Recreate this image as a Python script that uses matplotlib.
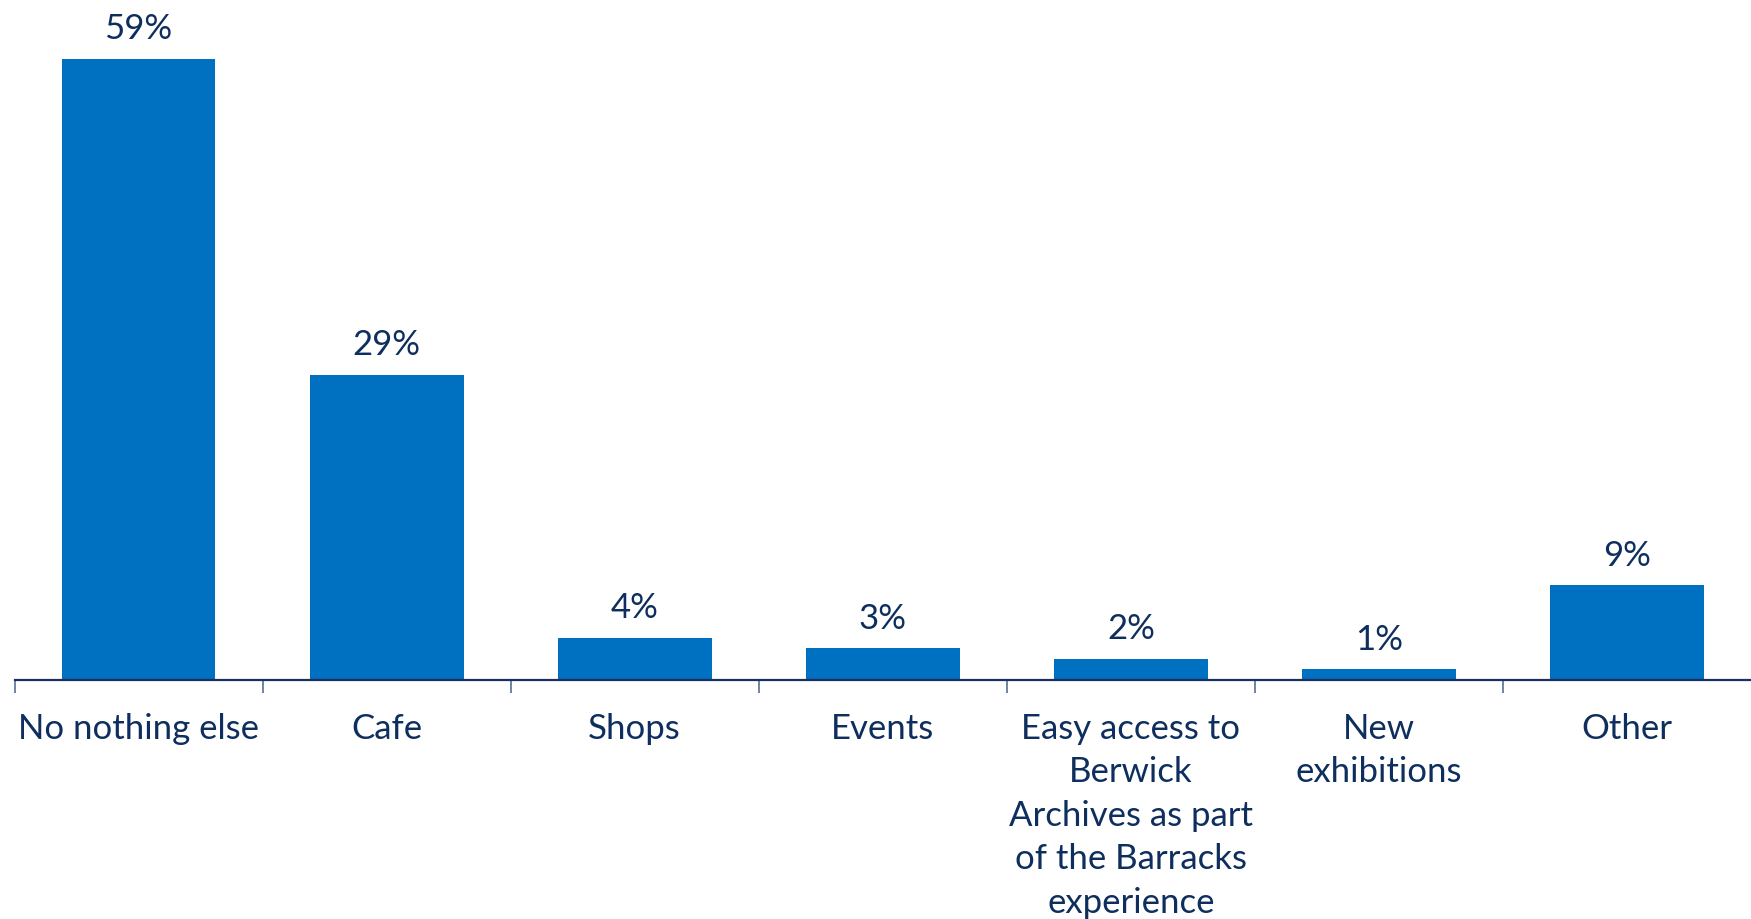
import matplotlib
matplotlib.use("Agg")
import matplotlib.pyplot as plt
import numpy as np

categories = [
    "No nothing else",
    "Cafe",
    "Shops",
    "Events",
    "Easy access to\nBerwick\nArchives as part\nof the Barracks\nexperience",
    "New\nexhibitions",
    "Other",
]
values = [59, 29, 4, 3, 2, 1, 9]
value_labels = ["59%", "29%", "4%", "3%", "2%", "1%", "9%"]

BAR_COLOR = "#0070C0"
TEXT_COLOR = "#0E2F5E"
AXIS_COLOR = "#1B2F63"
TICK_COLOR = "#5A6E99"

plt.rcParams["font.family"] = ["Lato", "DejaVu Sans"]

fig = plt.figure(figsize=(17.51, 9.20), dpi=100)
ax = fig.add_axes([14.5 / 1751, 239 / 920, 1 - 14.5 / 1751, 681 / 920])

x = np.arange(len(categories))
bars = ax.bar(x, values, width=0.62, color=BAR_COLOR, zorder=2)
ax.bar_label(bars, labels=value_labels, padding=10.5, fontsize=25, color=TEXT_COLOR)

ax.set_xlim(-0.5, len(categories) - 0.5)
ax.set_ylim(0, 64.7)

for side in ("top", "right", "left"):
    ax.spines[side].set_visible(False)
ax.spines["bottom"].set_color(AXIS_COLOR)
ax.spines["bottom"].set_linewidth(1.6)
ax.set_yticks([])

ax.set_xticks(x)
ax.set_xticklabels(categories, fontsize=25, color=TEXT_COLOR, linespacing=1.44)
ax.tick_params(axis="x", which="major", length=0, pad=23)

ax.set_xticks(np.arange(-0.5, len(categories) - 1), minor=True)
ax.tick_params(axis="x", which="minor", length=9, width=1.2, color=TICK_COLOR, direction="out")

fig.savefig("out.png", dpi=100, facecolor="white")
